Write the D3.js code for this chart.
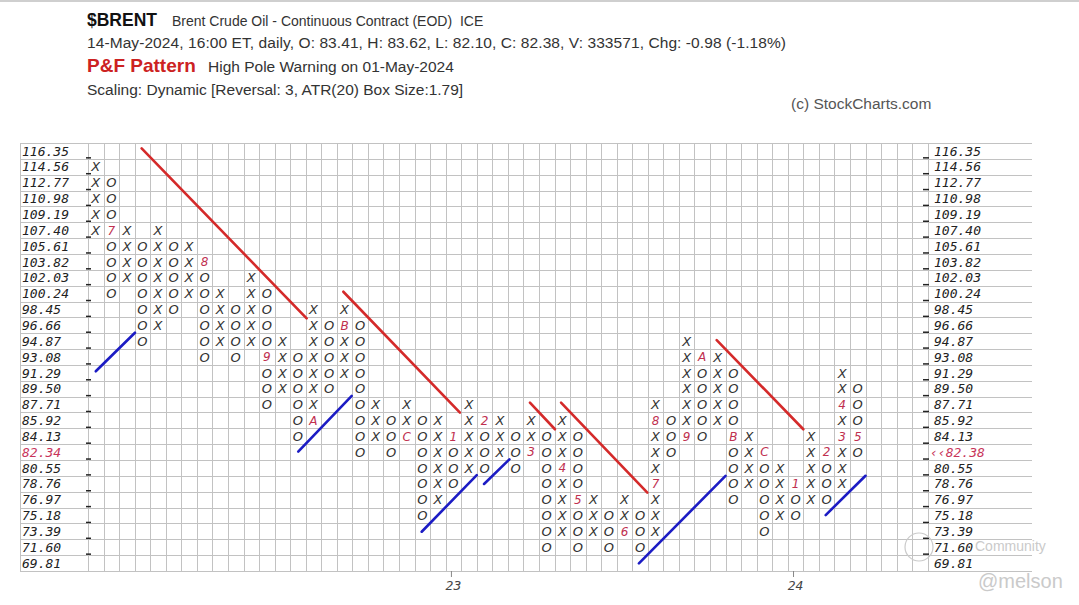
<!DOCTYPE html>
<html>
<head>
<meta charset="utf-8">
<script src="https://cdn.jsdelivr.net/npm/d3@7"></script>
<style>
body { margin: 0; background: #fff; }
svg { display: block; }
</style>
</head>
<body>
<script>

// box levels, top to bottom (box size 1.79)
var boxes = [116.35, 114.56, 112.77, 110.98, 109.19, 107.40, 105.61, 103.82, 102.03, 100.24,
             98.45, 96.66, 94.87, 93.08, 91.29, 89.50, 87.71, 85.92, 84.13, 82.34,
             80.55, 78.76, 76.97, 75.18, 73.39, 71.60, 69.81];
var boxSize = 1.79;

// P&F columns: type, highest box, lowest box
var colTypes = ["X","O","X","O","X","O","X","O","X","O",
                "X","O","X","O","X","O","X","O","X","O",
                "X","O","X","O","X","O","X","O","X","O",
                "X","O","X","O","X","O","X","O","X","O",
                "X","O","X","O","X","O","X","O","X","O"];
var colHigh = [114.56, 112.77, 107.40, 105.61, 107.40, 105.61, 105.61, 103.82, 100.24, 98.45,
               102.03, 100.24, 94.87, 93.08, 98.45, 96.66, 98.45, 96.66, 87.71, 85.92,
               87.71, 85.92, 85.92, 84.13, 87.71, 85.92, 85.92, 84.13, 85.92, 84.13,
               85.92, 84.13, 76.97, 75.18, 76.97, 75.18, 87.71, 85.92, 94.87, 93.08,
               93.08, 91.29, 84.13, 82.34, 80.55, 78.76, 84.13, 82.34, 91.29, 89.50];
var colLow  = [107.40, 100.24, 102.03, 94.87, 96.66, 98.45, 100.24, 93.08, 94.87, 93.08,
               94.87, 87.71, 89.50, 84.13, 85.92, 89.50, 91.29, 82.34, 84.13, 82.34,
               84.13, 75.18, 76.97, 78.76, 80.55, 80.55, 82.34, 80.55, 82.34, 71.60,
               73.39, 71.60, 73.39, 71.60, 73.39, 71.60, 73.39, 82.34, 84.13, 84.13,
               85.92, 76.97, 78.76, 73.39, 75.18, 75.18, 76.97, 76.97, 78.76, 82.34];

// month markers [column, box, label]
var monthMarks = [[1, 107.40, "7"], [7, 103.82, "8"], [11, 93.08, "9"], [14, 85.92, "A"],
                  [16, 96.66, "B"], [20, 84.13, "C"], [23, 84.13, "1"], [25, 85.92, "2"],
                  [28, 82.34, "3"], [30, 80.55, "4"], [31, 76.97, "5"], [34, 73.39, "6"],
                  [36, 78.76, "7"], [36, 85.92, "8"], [38, 84.13, "9"], [39, 93.08, "A"],
                  [41, 84.13, "B"], [43, 82.34, "C"], [45, 78.76, "1"], [47, 82.34, "2"],
                  [48, 84.13, "3"], [48, 87.71, "4"], [49, 84.13, "5"]];

// trend lines [col1, price1, col2, price2]
var redLines = [[3.45, 116.64, 14.06, 97.45], [16.42, 100.45, 23.92, 86.80],
                [28.42, 87.92, 30.03, 84.92], [30.42, 87.92, 35.97, 77.76],
                [40.43, 94.99, 46.0, 84.92]];
var blueLines = [[0.5, 91.47, 3.02, 95.82], [13.52, 82.39, 16.96, 88.68],
                 [21.46, 73.35, 25.0, 79.74], [25.47, 78.74, 27.1, 81.52],
                 [35.43, 69.77, 41.0, 79.66], [47.44, 75.23, 50.0, 79.67]];

var yearLabels = [[23, "23"], [45, "24"]];
var lastPrice = 82.38;
var nCols = 54;

var width = 1079, height = 605;
var svg = d3.select("body").append("svg")
    .attr("width", width)
    .attr("height", height);

var x = d3.scaleLinear().domain([0, nCols]).range([88, 927.7]);
var y = d3.scaleLinear()
    .domain([boxes[0] + boxSize / 2, boxes[boxes.length - 1] - boxSize / 2])
    .range([143, 571]);

var sans = "Arial, 'Liberation Sans', sans-serif";
var mono = "'DejaVu Sans Mono', monospace";

// thin frame line at top
svg.append("rect").attr("x", 0).attr("y", 0).attr("width", width).attr("height", 2).attr("fill", "#cfcfcf");

// header
var head = svg.append("g").attr("font-family", sans);
head.append("text").attr("x", 87).attr("y", 26)
    .attr("font-size", 19).attr("font-weight", "bold").attr("fill", "#111")
    .attr("textLength", 70).attr("lengthAdjust", "spacingAndGlyphs").text("$BRENT");
head.append("text").attr("x", 172).attr("y", 26)
    .attr("font-size", 14).attr("fill", "#333").attr("xml:space", "preserve")
    .text("Brent Crude Oil - Continuous Contract (EOD)  ICE");
head.append("text").attr("x", 87).attr("y", 48)
    .attr("font-size", 15.5).attr("fill", "#333").attr("textLength", 699)
    .text("14-May-2024, 16:00 ET, daily, O: 83.41, H: 83.62, L: 82.10, C: 82.38, V: 333571, Chg: -0.98 (-1.18%)");
head.append("text").attr("x", 87).attr("y", 72)
    .attr("font-size", 19).attr("font-weight", "bold").attr("fill", "#cc2222").text("P&F Pattern");
head.append("text").attr("x", 208).attr("y", 72)
    .attr("font-size", 15.5).attr("fill", "#333").text("High Pole Warning on 01-May-2024");
head.append("text").attr("x", 87).attr("y", 95)
    .attr("font-size", 15.5).attr("fill", "#333").text("Scaling: Dynamic [Reversal: 3, ATR(20) Box Size:1.79]");
head.append("text").attr("x", 791).attr("y", 109)
    .attr("font-size", 15.5).attr("fill", "#555").text("(c) StockCharts.com");

// grid
var grid = svg.append("g").attr("stroke", "#c2c2c2").attr("stroke-width", 1);
var rowEdges = d3.range(boxes.length + 1).map(function (i) {
    return boxes[0] + boxSize / 2 - i * boxSize;
});
grid.selectAll("line.h").data(rowEdges).enter().append("line")
    .attr("x1", 20).attr("x2", 1032)
    .attr("y1", function (d) { return Math.round(y(d)) + 0.5; })
    .attr("y2", function (d) { return Math.round(y(d)) + 0.5; });
grid.selectAll("line.v").data(d3.range(nCols + 1)).enter().append("line")
    .attr("y1", y.range()[0]).attr("y2", y.range()[1])
    .attr("x1", function (d) { return Math.round(x(d)) + 0.5; })
    .attr("x2", function (d) { return Math.round(x(d)) + 0.5; });
grid.append("line").attr("x1", 20.5).attr("x2", 20.5)
    .attr("y1", y.range()[0]).attr("y2", y.range()[1]);

// axis ticks
var inner = rowEdges.slice(1, rowEdges.length - 1);
var ticks = svg.append("g").attr("stroke", "#222").attr("stroke-width", 1.5);
ticks.selectAll("line.l").data(inner).enter().append("line")
    .attr("x1", 86).attr("x2", 91)
    .attr("y1", function (d) { return y(d) - 1; }).attr("y2", function (d) { return y(d) - 1; });
ticks.selectAll("line.r").data(inner).enter().append("line")
    .attr("x1", 923).attr("x2", 929)
    .attr("y1", function (d) { return y(d) - 1; }).attr("y2", function (d) { return y(d) - 1; });

// price labels
function isLast(d) { return Math.abs(d - lastPrice) < boxSize / 2; }
var labels = svg.append("g").attr("font-family", mono).attr("font-style", "italic").attr("font-size", 13);
labels.selectAll("text.l").data(boxes).enter().append("text")
    .attr("x", 22).attr("y", function (d) { return y(d); }).attr("dy", "0.36em")
    .attr("fill", function (d) { return isLast(d) ? "#c8345a" : "#222"; })
    .text(function (d) { return d.toFixed(2); });
labels.selectAll("text.r").data(boxes).enter().append("text")
    .attr("x", function (d) { return isLast(d) ? 930 : 934; })
    .attr("y", function (d) { return y(d); }).attr("dy", "0.36em")
    .attr("fill", function (d) { return isLast(d) ? "#c8345a" : "#222"; })
    .text(function (d) { return isLast(d) ? "\u2039\u2039" + lastPrice.toFixed(2) : d.toFixed(2); });

// year labels on bottom
var years = svg.append("g");
years.selectAll("line").data(yearLabels).enter().append("line")
    .attr("x1", function (d) { return x(d[0] + 0.5) - 2; })
    .attr("x2", function (d) { return x(d[0] + 0.5) - 2; })
    .attr("y1", 571).attr("y2", 577).attr("stroke", "#888");
years.selectAll("text").data(yearLabels).enter().append("text")
    .attr("x", function (d) { return x(d[0] + 0.5); }).attr("y", 590)
    .attr("text-anchor", "middle").attr("font-family", mono).attr("font-style", "italic")
    .attr("font-size", 13).attr("fill", "#444")
    .text(function (d) { return d[1]; });

// build X / O cells
var cells = [];
colTypes.forEach(function (t, c) {
    boxes.forEach(function (b) {
        if (b <= colHigh[c] + 0.01 && b >= colLow[c] - 0.01) {
            var m = monthMarks.filter(function (k) { return k[0] === c && Math.abs(k[1] - b) < 0.01; });
            cells.push({ col: c, price: b, label: m.length ? m[0][2] : t, month: m.length > 0 });
        }
    });
});

svg.append("g").selectAll("text").data(cells).enter().append("text")
    .attr("x", function (d) { return x(d.col + 0.5); })
    .attr("y", function (d) { return y(d.price); })
    .attr("dy", "0.36em")
    .attr("text-anchor", "middle")
    .attr("font-family", "'DejaVu Sans', Verdana, sans-serif")
    .attr("font-style", "italic")
    .attr("font-size", function (d) { return d.month ? 12 : 13; })
    .attr("fill", function (d) { return d.month ? "#c0304f" : "#333"; })
    .text(function (d) { return d.label; });

// trend lines
function drawLines(data, color) {
    svg.append("g").selectAll("line").data(data).enter().append("line")
        .attr("x1", function (d) { return x(d[0]); })
        .attr("y1", function (d) { return y(d[1]); })
        .attr("x2", function (d) { return x(d[2]); })
        .attr("y2", function (d) { return y(d[3]); })
        .attr("stroke", color).attr("stroke-width", 2.6).attr("stroke-linecap", "round");
}
drawLines(redLines, "#d42a2a");
drawLines(blueLines, "#1c1cc4");

// faint watermark (lies over the right axis as in the source)
var wm = svg.append("g").attr("font-family", sans).attr("fill", "#cacaca");
wm.append("circle").attr("cx", 919).attr("cy", 547).attr("r", 14)
    .attr("fill", "none").attr("stroke", "#cacaca").attr("stroke-width", 1.2);
wm.append("text").attr("x", 975).attr("y", 551).attr("font-size", 14).text("Community");
wm.append("text").attr("x", 978).attr("y", 588).attr("font-size", 20).text("@melson");

</script>
</body>
</html>
